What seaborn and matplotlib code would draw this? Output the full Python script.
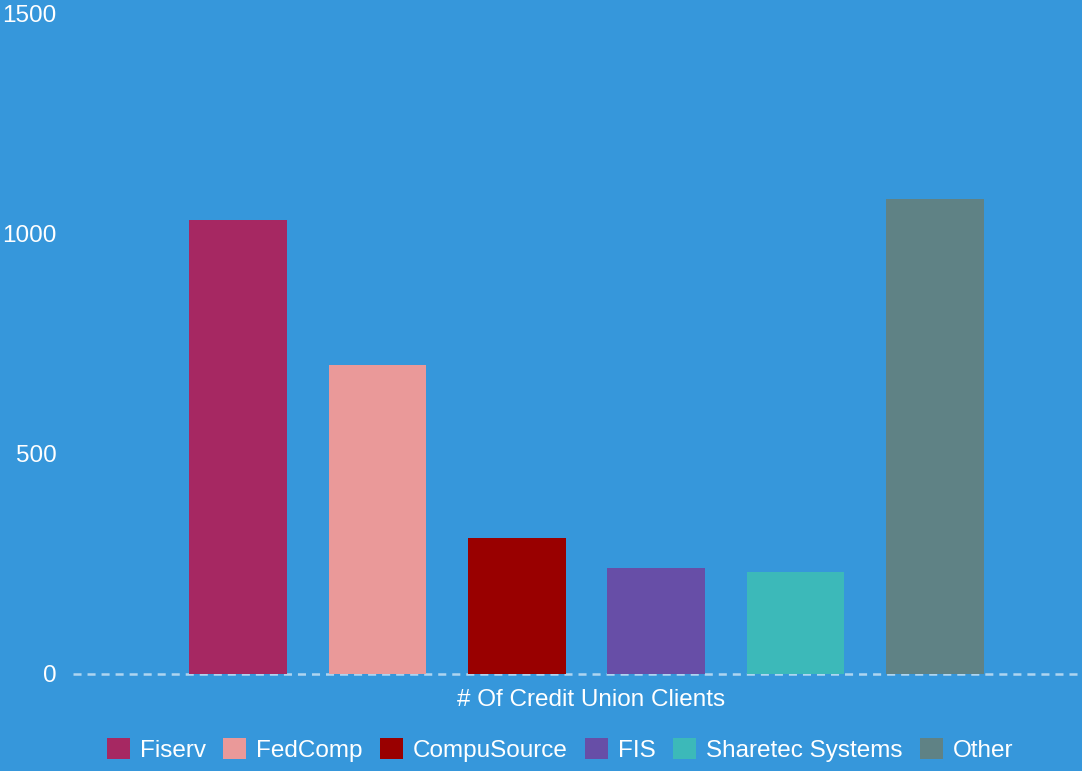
import matplotlib
matplotlib.use("Agg")
import matplotlib.pyplot as plt
import seaborn as sns
import pandas as pd
from matplotlib.patches import Patch

categories = ["Fiserv", "FedComp", "CompuSource", "FIS", "Sharetec Systems", "Other"]
values = [1032, 703, 309, 241, 232, 1080]
colors = ["#A62862", "#EA9999", "#990000", "#674EA7", "#3CB9B9", "#5F8285"]
y_ticks = [0, 500, 1000, 1500]
x_label = "# Of Credit Union Clients"

BG = "#3697DB"

sns.set_theme(style="white")
plt.rcParams["font.family"] = ["Liberation Sans", "DejaVu Sans"]
plt.rcParams["lines.scale_dashes"] = False

df = pd.DataFrame({"vendor": categories, "clients": values})

fig = plt.figure(figsize=(10.82, 7.71), dpi=100, facecolor=BG)
ax = fig.add_axes([73 / 1082, 1 - 674 / 771, 1 - 73 / 1082, (674 - 14) / 771])
ax.set_facecolor(BG)

sns.barplot(data=df, x="vendor", y="clients", hue="vendor", order=categories,
            hue_order=categories, palette=colors, width=0.70, dodge=False,
            legend=False, ax=ax, linewidth=0, saturation=1)

ax.set_ylim(0, 1500)
ax.set_xlim(-1.183, 6.054)
ax.set_yticks(y_ticks)
ax.set_yticklabels([str(t) for t in y_ticks], color="white", fontsize=17.5)
ax.tick_params(axis="y", length=0, pad=12)
ax.set_xticks([])
ax.set_ylabel("")
ax.set_xlabel(x_label, color="white", fontsize=17.5)
ax.xaxis.set_label_coords((591 - 73) / 1009, -0.039)
ax.xaxis.label.set_va("center")
for s in ax.spines.values():
    s.set_visible(False)

ax.axhline(0, color="white", alpha=0.6, linewidth=1.8, dashes=(5.8, 4.3), zorder=0.5, clip_on=False)

handles = [Patch(facecolor=c, edgecolor="none", label=l) for c, l in zip(colors, categories)]
leg = fig.legend(handles=handles, loc="center", bbox_to_anchor=(560 / 1082, 1 - 750 / 771),
                 ncol=6, frameon=False, fontsize=17.5, handlelength=0.95, handleheight=0.95,
                 handletextpad=0.4, columnspacing=0.72)
for t in leg.get_texts():
    t.set_color("white")

fig.savefig("out.png", dpi=100, facecolor=BG)
